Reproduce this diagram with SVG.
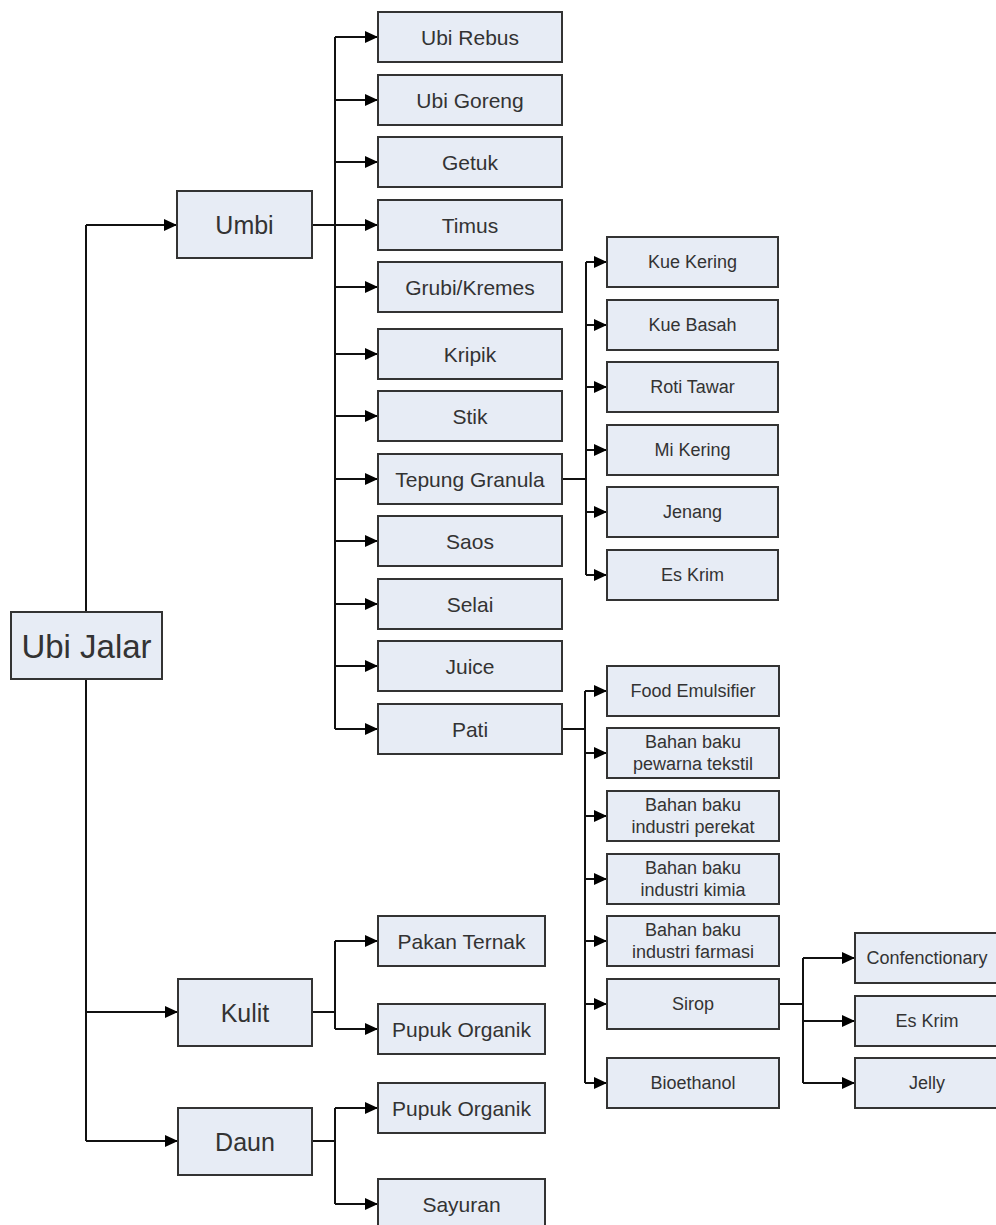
<svg xmlns="http://www.w3.org/2000/svg" width="996" height="1225" viewBox="0 0 996 1225">
<defs>
<marker id="arr" markerUnits="userSpaceOnUse" markerWidth="14" markerHeight="12" refX="13" refY="6" orient="auto">
<path d="M0,0 L13,6 L0,12 z" fill="#000"/>
</marker>
<style>
.box{fill:#e7ecf5;stroke:#333;stroke-width:2}
.t{font-family:"Liberation Sans",Arial,sans-serif;fill:#333;text-anchor:middle;dominant-baseline:central}
.l{stroke:#111;stroke-width:2;fill:none}
.a{stroke:#111;stroke-width:2;fill:none;marker-end:url(#arr)}
.f33{font-size:33px}.f25{font-size:25px}.f21{font-size:21px}.f18{font-size:18px}
</style>
</defs>
<rect width="996" height="1225" fill="#fff"/>
<g id="connectors">
<path class="l" d="M86,225 V1141"/>
<path class="a" d="M86,225 H177"/>
<path class="a" d="M86,1012 H178"/>
<path class="a" d="M86,1141 H178"/>
<path class="l" d="M312,225 H335 M335,37 V729"/>
<path class="a" d="M335,37 H378"/>
<path class="a" d="M335,100 H378"/>
<path class="a" d="M335,162 H378"/>
<path class="a" d="M335,225 H378"/>
<path class="a" d="M335,287 H378"/>
<path class="a" d="M335,354 H378"/>
<path class="a" d="M335,416 H378"/>
<path class="a" d="M335,479 H378"/>
<path class="a" d="M335,541 H378"/>
<path class="a" d="M335,604 H378"/>
<path class="a" d="M335,666 H378"/>
<path class="a" d="M335,729 H378"/>
<path class="l" d="M562,479 H586 M586,262 V575"/>
<path class="a" d="M586,262 H607"/>
<path class="a" d="M586,325 H607"/>
<path class="a" d="M586,387 H607"/>
<path class="a" d="M586,450 H607"/>
<path class="a" d="M586,512 H607"/>
<path class="a" d="M586,575 H607"/>
<path class="l" d="M562,729 H585 M585,691 V1083"/>
<path class="a" d="M585,691 H607"/>
<path class="a" d="M585,753 H607"/>
<path class="a" d="M585,816 H607"/>
<path class="a" d="M585,879 H607"/>
<path class="a" d="M585,941 H607"/>
<path class="a" d="M585,1004 H607"/>
<path class="a" d="M585,1083 H607"/>
<path class="l" d="M779,1004 H803 M803,958 V1083"/>
<path class="a" d="M803,958 H855"/>
<path class="a" d="M803,1021 H855"/>
<path class="a" d="M803,1083 H855"/>
<path class="l" d="M312,1012 H335 M335,941 V1029"/>
<path class="a" d="M335,941 H378"/>
<path class="a" d="M335,1029 H378"/>
<path class="l" d="M312,1141 H335 M335,1108 V1204"/>
<path class="a" d="M335,1108 H378"/>
<path class="a" d="M335,1204 H378"/>
</g>
<g id="n-ubijalar"><rect class="box" x="11" y="612" width="151" height="67"/><text class="t f33" x="86.5" y="646">Ubi Jalar</text></g>
<g id="n-umbi"><rect class="box" x="177" y="191" width="135" height="67"/><text class="t f25" x="244.5" y="225">Umbi</text></g>
<g id="n-kulit"><rect class="box" x="178" y="979" width="134" height="67"/><text class="t f25" x="245" y="1013">Kulit</text></g>
<g id="n-daun"><rect class="box" x="178" y="1108" width="134" height="67"/><text class="t f25" x="245" y="1142">Daun</text></g>
<g id="n-ubirebus"><rect class="box" x="378" y="12" width="184" height="50"/><text class="t f21" x="470" y="37">Ubi Rebus</text></g>
<g id="n-ubigoreng"><rect class="box" x="378" y="75" width="184" height="50"/><text class="t f21" x="470" y="100">Ubi Goreng</text></g>
<g id="n-getuk"><rect class="box" x="378" y="137" width="184" height="50"/><text class="t f21" x="470" y="162">Getuk</text></g>
<g id="n-timus"><rect class="box" x="378" y="200" width="184" height="50"/><text class="t f21" x="470" y="225">Timus</text></g>
<g id="n-grubi"><rect class="box" x="378" y="262" width="184" height="50"/><text class="t f21" x="470" y="287">Grubi/Kremes</text></g>
<g id="n-kripik"><rect class="box" x="378" y="329" width="184" height="50"/><text class="t f21" x="470" y="354">Kripik</text></g>
<g id="n-stik"><rect class="box" x="378" y="391" width="184" height="50"/><text class="t f21" x="470" y="416">Stik</text></g>
<g id="n-tepung"><rect class="box" x="378" y="454" width="184" height="50"/><text class="t f21" x="470" y="479">Tepung Granula</text></g>
<g id="n-saos"><rect class="box" x="378" y="516" width="184" height="50"/><text class="t f21" x="470" y="541">Saos</text></g>
<g id="n-selai"><rect class="box" x="378" y="579" width="184" height="50"/><text class="t f21" x="470" y="604">Selai</text></g>
<g id="n-juice"><rect class="box" x="378" y="641" width="184" height="50"/><text class="t f21" x="470" y="666">Juice</text></g>
<g id="n-pati"><rect class="box" x="378" y="704" width="184" height="50"/><text class="t f21" x="470" y="729">Pati</text></g>
<g id="n-kuekering"><rect class="box" x="607" y="237" width="171" height="50"/><text class="t f18" x="692.5" y="262">Kue Kering</text></g>
<g id="n-kuebasah"><rect class="box" x="607" y="300" width="171" height="50"/><text class="t f18" x="692.5" y="325">Kue Basah</text></g>
<g id="n-rotitawar"><rect class="box" x="607" y="362" width="171" height="50"/><text class="t f18" x="692.5" y="387">Roti Tawar</text></g>
<g id="n-mikering"><rect class="box" x="607" y="425" width="171" height="50"/><text class="t f18" x="692.5" y="450">Mi Kering</text></g>
<g id="n-jenang"><rect class="box" x="607" y="487" width="171" height="50"/><text class="t f18" x="692.5" y="512">Jenang</text></g>
<g id="n-eskrim1"><rect class="box" x="607" y="550" width="171" height="50"/><text class="t f18" x="692.5" y="575">Es Krim</text></g>
<g id="n-food"><rect class="box" x="607" y="666" width="172" height="50"/><text class="t f18" x="693" y="691">Food Emulsifier</text></g>
<g id="n-pewarna"><rect class="box" x="607" y="728" width="172" height="50"/><text class="t f18" x="693" y="742">Bahan baku</text><text class="t f18" x="693" y="764">pewarna tekstil</text></g>
<g id="n-perekat"><rect class="box" x="607" y="791" width="172" height="50"/><text class="t f18" x="693" y="805">Bahan baku</text><text class="t f18" x="693" y="827">industri perekat</text></g>
<g id="n-kimia"><rect class="box" x="607" y="854" width="172" height="50"/><text class="t f18" x="693" y="868">Bahan baku</text><text class="t f18" x="693" y="890">industri kimia</text></g>
<g id="n-farmasi"><rect class="box" x="607" y="916" width="172" height="50"/><text class="t f18" x="693" y="930">Bahan baku</text><text class="t f18" x="693" y="952">industri farmasi</text></g>
<g id="n-sirop"><rect class="box" x="607" y="979" width="172" height="50"/><text class="t f18" x="693" y="1004">Sirop</text></g>
<g id="n-bioethanol"><rect class="box" x="607" y="1058" width="172" height="50"/><text class="t f18" x="693" y="1083">Bioethanol</text></g>
<g id="n-confenctionary"><rect class="box" x="855" y="933" width="144" height="50"/><text class="t f18" x="927" y="958">Confenctionary</text></g>
<g id="n-eskrim2"><rect class="box" x="855" y="996" width="144" height="50"/><text class="t f18" x="927" y="1021">Es Krim</text></g>
<g id="n-jelly"><rect class="box" x="855" y="1058" width="144" height="50"/><text class="t f18" x="927" y="1083">Jelly</text></g>
<g id="n-pakan"><rect class="box" x="378" y="916" width="167" height="50"/><text class="t f21" x="461.5" y="941">Pakan Ternak</text></g>
<g id="n-pupuk1"><rect class="box" x="378" y="1004" width="167" height="50"/><text class="t f21" x="461.5" y="1029">Pupuk Organik</text></g>
<g id="n-pupuk2"><rect class="box" x="378" y="1083" width="167" height="50"/><text class="t f21" x="461.5" y="1108">Pupuk Organik</text></g>
<g id="n-sayuran"><rect class="box" x="378" y="1179" width="167" height="50"/><text class="t f21" x="461.5" y="1204">Sayuran</text></g>
</svg>
